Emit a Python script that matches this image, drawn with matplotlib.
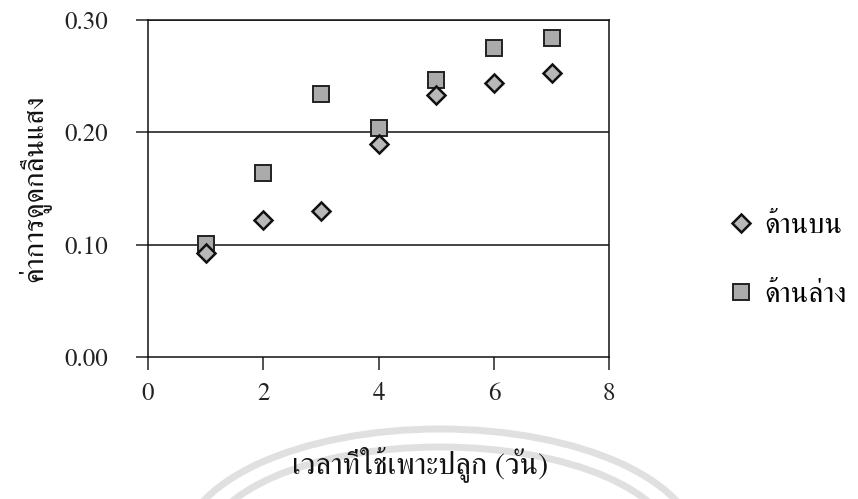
import matplotlib
matplotlib.use('Agg')
import matplotlib.pyplot as plt
from matplotlib.patches import Arc

# data
days = [1, 2, 3, 4, 5, 6, 7]
top_side = [0.093, 0.122, 0.130, 0.190, 0.233, 0.244, 0.253]     # ด้านบน
bottom_side = [0.101, 0.164, 0.234, 0.204, 0.247, 0.275, 0.284]  # ด้านล่าง

x_ticks = [0, 2, 4, 6, 8]
y_ticks = [0.0, 0.1, 0.2, 0.3]

plt.rcParams['font.family'] = ['FreeSerif', 'DejaVu Serif']

fig = plt.figure(figsize=(8.58, 4.99), dpi=100)
ax = fig.add_axes([0.1725, 0.2846, 0.5375, 0.6754])

ax.plot(days, bottom_side, 's', ms=11.5, mfc='#ababab',
        mec='#222222', mew=1.4, label='ด้านล่าง', zorder=3)
ax.plot(days, top_side, 'D', ms=9, mfc='#b8b8b8', mec='#111111',
        mew=1.8, label='ด้านบน', zorder=4)

ax.set_xlim(0, 8)
ax.set_ylim(0, 0.30)
ax.set_xticks(x_ticks)
ax.set_yticks(y_ticks)
ax.set_yticklabels(['%.2f' % v for v in y_ticks])
for yv in y_ticks[1:]:
    ax.axhline(yv, color='#111111', lw=1.1, zorder=1)
for s in ax.spines.values():
    s.set_color('#111111')
    s.set_linewidth(1.1)
ax.tick_params(axis='x', direction='out', length=9, width=1.1, pad=9,
               labelsize=18, colors='#222222')
ax.tick_params(axis='y', direction='out', length=9, width=1.1, pad=20,
               labelsize=18, colors='#222222')

ax.set_xlabel('เวลาที่ใช้เพาะปลูก (วัน)', fontsize=22, color='#111111')
ax.xaxis.set_label_coords(0.59, -0.265)
ax.set_ylabel('ค่าการดูดกลืนแสง', fontsize=21, labelpad=10, color='#111111')

# legend, top series first as in the original
h, l = ax.get_legend_handles_labels()
leg = fig.legend(h[::-1], l[::-1], loc='center left',
                 bbox_to_anchor=(0.833, 0.478), frameon=False, fontsize=21,
                 handletextpad=0.3, labelspacing=1.45, handlelength=1.0,
                 borderaxespad=0)

# faint watermark arcs from the scan
for w, hgt in [(516, 240), (470, 204)]:
    fig.patches.append(Arc((440 / 858, -50 / 499), w / 858, hgt / 499,
                           theta1=0, theta2=180, transform=fig.transFigure,
                           color='#e0e0e0', lw=5, zorder=-1))

fig.savefig('out.png', dpi=100)
